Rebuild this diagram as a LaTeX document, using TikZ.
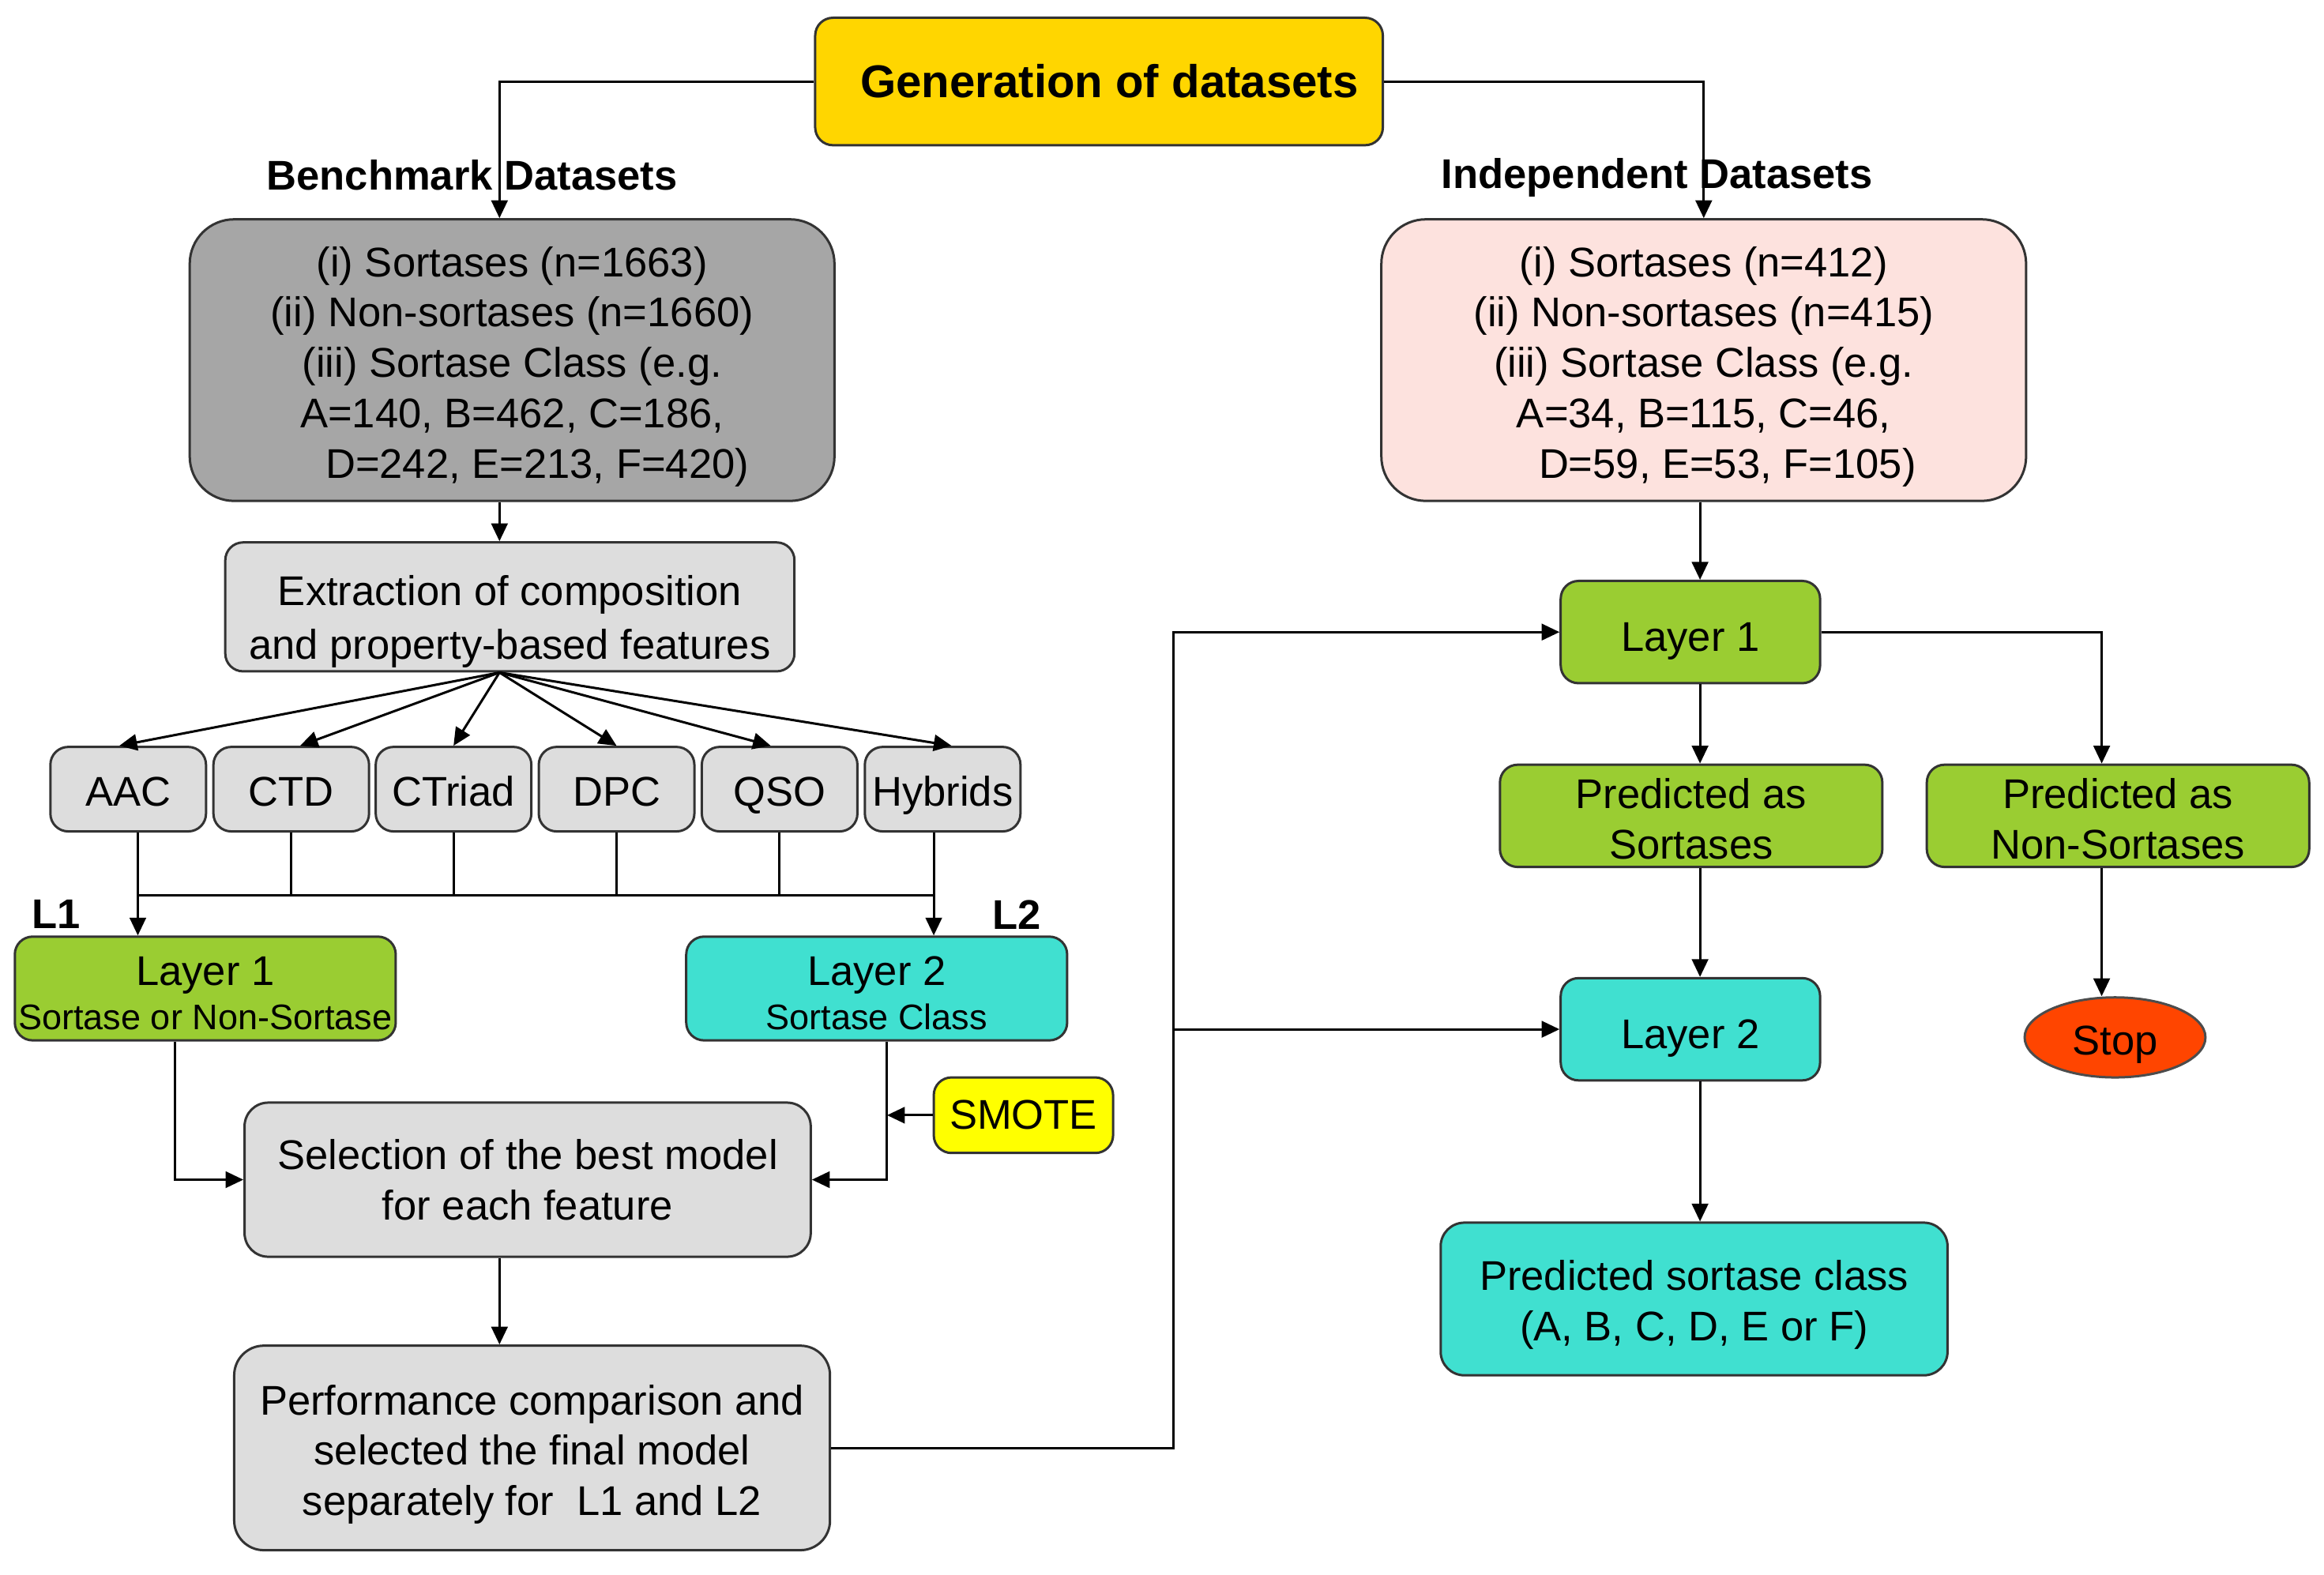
\documentclass[tikz,border=0pt]{standalone}
\usepackage{fontspec}
\setmainfont{Liberation Sans}
\usepackage{tikz}
\usetikzlibrary{arrows.meta}
\usetikzlibrary{shapes.geometric}
\definecolor{genyellow}{RGB}{255,214,0}
\definecolor{benchgray}{RGB}{166,166,166}
\definecolor{boxgray}{RGB}{221,221,221}
\definecolor{indeppink}{RGB}{253,226,222}
\definecolor{layergreen}{RGB}{154,205,50}
\definecolor{layerturq}{RGB}{64,224,208}
\definecolor{smoteyellow}{RGB}{255,255,0}
\definecolor{stopred}{RGB}{255,69,0}
\newcommand{\droptext}[1]{\rule{0pt}{#1}}

\begin{document}
\begin{tikzpicture}[x=0.5pt,y=-0.5pt,
    >={Triangle[length=6pt,width=5.5pt]},
    every node/.style={font=\fontsize{14}{17}\selectfont},
    box/.style={rectangle,draw=black!80,line width=0.8pt,rounded corners=6pt,align=center,inner sep=0pt},
    graybox/.style={box,fill=boxgray},
    greenbox/.style={box,fill=layergreen},
    turqbox/.style={box,fill=layerturq},
    feature/.style={graybox,minimum width=52.5pt,minimum height=28.5pt,text height=14pt,text depth=2.5pt},
    tag/.style={font=\fontsize{14}{17}\selectfont\bfseries,inner sep=0pt}]
    \useasboundingbox (0,0) rectangle (1568,1062.7);
    % top
    \node[box,fill=genyellow,minimum width=191.5pt,minimum height=43pt,
      font=\fontsize{15.5}{18}\selectfont\bfseries] (gen) at (741.5,55) {\hspace*{7pt}Generation of datasets};
    \node[tag] (benchtag) at (318.5,118) {Benchmark Datasets};
    \node[tag] (indeptag) at (1118,120) {Independent Datasets};
    \node[box,fill=benchgray,rounded corners=15pt,minimum width=217.5pt,minimum height=95pt] (bench) at (345.5,243)
      {\droptext{14.5pt}(i) Sortases (n=1663)\\(ii) Non-sortases (n=1660)\\(iii) Sortase Class (e.g.\\A=140, B=462, C=186,\\\hspace*{17pt}D=242, E=213, F=420)};
    \node[box,fill=indeppink,rounded corners=15pt,minimum width=217.5pt,minimum height=95pt] (indep) at (1149.5,243)
      {\droptext{14.5pt}(i) Sortases (n=412)\\(ii) Non-sortases (n=415)\\(iii) Sortase Class (e.g.\\A=34, B=115, C=46,\\\hspace*{16pt}D=59, E=53, F=105)};
    % benchmark side
    \node[graybox,minimum width=192pt,minimum height=43.5pt] (ext) at (344,409.5)
      {\droptext{20pt}Extraction of composition\\[1pt]and property-based features};
    \node[feature] (aac) at (86.5,532.5) {AAC};
    \node[feature] (ctd) at (196.5,532.5) {CTD};
    \node[feature] (ctriad) at (306,532.5) {CTriad};
    \node[feature] (dpc) at (416,532.5) {DPC};
    \node[feature] (qso) at (526,532.5) {QSO};
    \node[feature] (hyb) at (636,532.5) {Hybrids};
    \node[tag] (ltag1) at (38,617) {L1};
    \node[tag] (ltag2) at (686,617) {L2};
    \node[greenbox,minimum width=128.5pt,minimum height=35pt] (lay1) at (138.5,667)
      {\droptext{13pt}Layer 1\\[-2pt]{\fontsize{12}{14}\selectfont Sortase or Non-Sortase}};
    \node[turqbox,minimum width=128.5pt,minimum height=35pt] (lay2) at (591.5,667)
      {\droptext{13pt}Layer 2\\[-2pt]{\fontsize{12}{14}\selectfont Sortase Class}};
    \node[box,fill=smoteyellow,minimum width=60.5pt,minimum height=25.5pt] (smote) at (690.5,752.5) {SMOTE};
    \node[graybox,rounded corners=8pt,minimum width=191pt,minimum height=52pt] (sel) at (356,796)
      {Selection of the best model\\for each feature};
    \node[graybox,rounded corners=10pt,minimum width=201pt,minimum height=69pt] (perf) at (359,977)
      {\droptext{14.5pt}Performance comparison and\\selected the final model\\separately for\ \ L1 and L2};
    % independent side
    \node[greenbox,minimum width=87.5pt,minimum height=34.5pt] (lay1r) at (1140.5,426.5) {\droptext{16pt}Layer 1};
    \node[greenbox,minimum width=129pt,minimum height=34.5pt] (preds) at (1141,550.5) {\droptext{12pt}Predicted as\\Sortases};
    \node[greenbox,minimum width=129pt,minimum height=34.5pt] (predn) at (1429,550.5) {\droptext{12pt}Predicted as\\Non-Sortases};
    \node[turqbox,minimum width=87.5pt,minimum height=34.5pt] (lay2r) at (1140.5,694.5) {\droptext{16pt}Layer 2};
    \node[ellipse,draw=black!70,line width=0.8pt,fill=stopred,minimum width=61pt,minimum height=27pt,inner sep=0pt,
      text height=15pt,text depth=3pt] (stop) at (1427,700) {Stop};
    \node[turqbox,rounded corners=8pt,minimum width=171pt,minimum height=51.5pt] (final) at (1143,876.5)
      {\droptext{14pt}Predicted sortase class\\(A, B, C, D, E or F)};
    % helper points
    \coordinate (benchin) at ([xshift=-4.25pt]bench.north);
    \coordinate (extout) at ([xshift=-3.5pt]ext.south);
    \coordinate (busL) at (93,604);
    \coordinate (busR) at (630,604);
    \coordinate (l1out) at ([xshift=-10.25pt]lay1.south);
    \coordinate (l2out) at ([xshift=3.5pt]lay2.south);
    \coordinate (selout) at ([xshift=-9.5pt]sel.south);
    \coordinate (trunk) at ([xshift=115.5pt]perf.east);
    \coordinate (colR) at ([xshift=-1.25pt]indep.south);
    \coordinate (nsin) at ([xshift=-5.5pt]predn.north);
    %
    \begin{scope}[line width=0.8pt]
        \draw[->] (gen.west) -| (benchin);
        \draw[->] (gen.east) -| (indep.north);
        \draw[->] (benchin |- bench.south) -- (benchin |- ext.north);
        \draw[->] (extout) -- ([xshift=-3pt]aac.north);
        \draw[->] (extout) -- ([xshift=3pt]ctd.north);
        \draw[->] (extout) -- (ctriad.north);
        \draw[->] (extout) -- (dpc.north);
        \draw[->] (extout) -- ([xshift=-3pt]qso.north);
        \draw[->] (extout) -- ([xshift=3pt]hyb.north);
        \draw (busL |- aac.south) -- (busL);
        \draw (ctd.south) -- (ctd.south |- busL);
        \draw (ctriad.south) -- (ctriad.south |- busL);
        \draw (dpc.south) -- (dpc.south |- busL);
        \draw (qso.south) -- (qso.south |- busL);
        \draw (busR |- hyb.south) -- (busR);
        \draw (busL) -- (busR);
        \draw[->] (busL) -- (busL |- lay1.north);
        \draw[->] (busR) -- (busR |- lay2.north);
        \draw[->] (l1out) |- (sel.west);
        \draw[->] (l2out) |- (sel.east);
        \draw[->] (smote.west) -- (smote.west -| l2out);
        \draw[->] (selout) -- (selout |- perf.north);
        \draw[->] (perf.east) -- (trunk) |- (lay1r.west);
        \draw[->] (trunk |- lay2r.west) -- (lay2r.west);
        \draw[->] (colR) -- (colR |- lay1r.north);
        \draw[->] (colR |- lay1r.south) -- (colR |- preds.north);
        \draw[->] (lay1r.east) -| (nsin);
        \draw[->] (colR |- preds.south) -- (colR |- lay2r.north);
        \draw[->] (nsin |- predn.south) -- (nsin |- stop.north);
        \draw[->] (colR |- lay2r.south) -- (colR |- final.north);
    \end{scope}
\end{tikzpicture}
\end{document}
